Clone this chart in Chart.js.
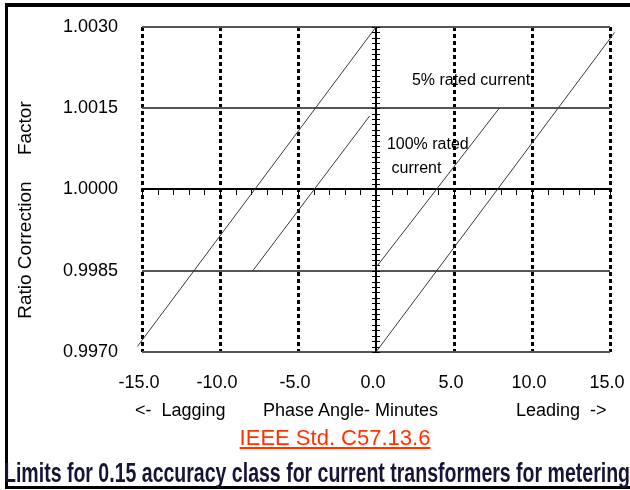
<!DOCTYPE html>
<html><head><meta charset="utf-8">
<script src="https://cdn.jsdelivr.net/npm/chart.js@4.4.0/dist/chart.umd.min.js"></script>
<style>
html,body{margin:0;padding:0;background:#fff;}
#wrap{position:relative;width:630px;height:490px;overflow:hidden;background:#fff;font-family:"Liberation Sans",Arial,sans-serif;}
#c{position:absolute;left:0;top:0;}
.t{position:absolute;white-space:pre;color:#000;}
#frame{position:absolute;left:5px;top:3px;width:660px;height:479px;border-top:4px solid #000;border-left:3px solid #000;border-bottom:3px solid #000;pointer-events:none;}
#ytitle{left:-95px;top:200px;width:240px;height:20px;line-height:20px;font-size:19px;text-align:center;transform:rotate(-90deg);}
#xrow{position:absolute;left:0;top:398px;width:630px;height:22px;overflow:hidden;}
#xrow .t{font-size:18px;line-height:18px;top:3px;}
#ieee{left:0;width:670px;text-align:center;top:427px;font-size:22px;line-height:22px;color:#ff3300;}
#ieee span{text-decoration:underline;}
#title{left:4px;top:459px;font-size:28px;line-height:28px;font-weight:bold;color:#15153a;transform-origin:0 0;}
</style></head>
<body><div id="wrap">
<canvas id="c" width="630" height="490"></canvas>
<div id="frame"></div>
<div id="ytitle" class="t">Ratio Correction     Factor</div>
<div id="xrow">
  <div class="t" style="left:135px">&lt;-  Lagging</div>
  <div class="t" style="left:263px">Phase Angle- Minutes</div>
  <div class="t" style="left:516px">Leading  -&gt;</div>
</div>
<div id="ieee" class="t"><span>IEEE Std. C57.13.6</span></div>
<div id="title" class="t">Limits for 0.15 accuracy class for current transformers for metering</div>
</div>
<script>
// ---- data ----
const xTicks = [-15, -10, -5, 0, 5, 10, 15];
const yTicks = [0.9970, 0.9985, 1.0000, 1.0015, 1.0030];
// 5% rated current limits
const lag5X = [-15.3, 0.0];   const lag5Y = [0.9971, 1.0030];
const lead5X = [0.0, 15.3];   const lead5Y = [0.9970, 1.0029];
// 100% rated current limits
const lag100X = [-7.9, -0.4]; const lag100Y = [0.9985, 1.00136];
const lead100X = [0.05, 7.9]; const lead100Y = [0.99858, 1.0015];
// annotations
const noteText = ['5% rated current', '100% rated', 'current'];
const noteX = [2.3, 0.7, 1.0];
const noteY = [1.00201, 1.00083, 1.00038];

const pts = (xs, ys) => xs.map((v, i) => ({x: v, y: ys[i]}));
const lineDs = (xs, ys) => ({data: pts(xs, ys), showLine: true, pointRadius: 0, borderColor: '#3a3a3a', borderWidth: 1, clip: false, fill: false});

const crossPlugin = {
  id: 'cross',
  beforeDraw(chart) {
    const {ctx, scales: {x, y}} = chart;
    ctx.save();
    ctx.font = '16px "Liberation Sans", Arial, sans-serif';
    ctx.fillStyle = '#000';
    ctx.textBaseline = 'middle';
    ctx.textAlign = 'left';
    noteText.forEach((t, i) => ctx.fillText(t, x.getPixelForValue(noteX[i]), y.getPixelForValue(noteY[i])));
    ctx.restore();
  },
  beforeDatasetsDraw(chart) {
    const {ctx, chartArea: a, scales: {x, y}} = chart;
    const x0 = Math.round(x.getPixelForValue(0)), y0 = Math.round(y.getPixelForValue(1.0));
    ctx.save();
    ctx.strokeStyle = '#000';
    ctx.lineWidth = 2;
    ctx.beginPath();
    ctx.moveTo(a.left, y0); ctx.lineTo(a.right, y0);
    ctx.moveTo(x0, a.top); ctx.lineTo(x0, a.bottom);
    ctx.stroke();
    ctx.lineWidth = 1;
    ctx.beginPath();
    const xMinor = 1, yMinor = 0.0001;
    for (let k = 0; k <= 30; k++) {
      const px = Math.round(x.getPixelForValue(x.min + k * xMinor)) + 0.5;
      ctx.moveTo(px, y0 - 1); ctx.lineTo(px, y0 + 6);
    }
    for (let k = 0; k <= 60; k++) {
      const py = Math.round(y.getPixelForValue(y.min + k * yMinor)) + 0.5;
      ctx.moveTo(x0 - 4, py); ctx.lineTo(x0 + 4, py);
    }
    ctx.stroke();
    ctx.restore();
  }
};

const tickFont = {family: '"Liberation Sans", Arial, sans-serif', size: 18};
new Chart(document.getElementById('c'), {
  type: 'scatter',
  data: {datasets: [lineDs(lag5X, lag5Y), lineDs(lead5X, lead5Y), lineDs(lag100X, lag100Y), lineDs(lead100X, lead100Y)]},
  options: {
    responsive: false, animation: false, events: [],
    layout: {padding: {left: 0, top: 27, right: 20, bottom: 0}},
    plugins: {legend: {display: false}, tooltip: {enabled: false}},
    scales: {
      x: {
        type: 'linear', min: -15, max: 15,
        afterBuildTicks: s => { s.ticks = xTicks.map(v => ({value: v})); },
        afterFit: s => { s.height = 138; s.paddingLeft = 0; s.paddingRight = 0; },
        ticks: {font: tickFont, color: '#000', padding: 20, labelOffset: -3, maxRotation: 0, callback: v => Number(v).toFixed(1)},
        grid: {drawTicks: false, lineWidth: 3, color: c => (c.tick && Math.abs(c.tick.value) < 1e-9) ? 'rgba(0,0,0,0)' : '#000'},
        border: {display: false, dash: [4, 3]}
      },
      y: {
        type: 'linear', min: 0.997, max: 1.003,
        afterBuildTicks: s => { s.ticks = yTicks.map(v => ({value: v})); },
        afterFit: s => { s.width = 142; s.paddingTop = 0; s.paddingBottom = 0; },
        ticks: {font: tickFont, color: '#000', padding: 24, callback: v => Number(v).toFixed(4)},
        grid: {drawTicks: false, lineWidth: 2, color: c => (c.tick && Math.abs(c.tick.value - 1) < 1e-9) ? 'rgba(0,0,0,0)' : '#555'},
        border: {display: false}
      }
    }
  },
  plugins: [crossPlugin]
});

const title = document.getElementById('title');
const w = title.getBoundingClientRect().width;
title.style.transform = 'scaleX(' + (626 / w) + ')';
</script>
</body></html>
